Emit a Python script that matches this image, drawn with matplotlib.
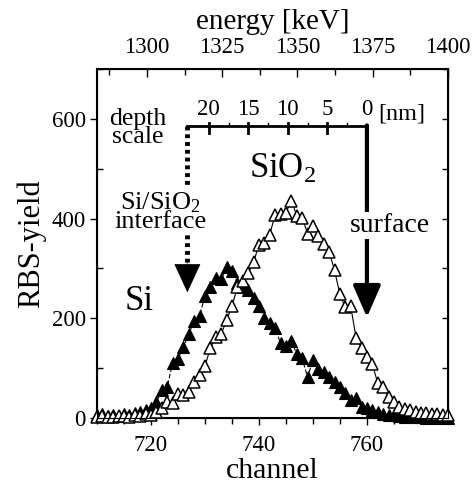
import numpy as np
import matplotlib
matplotlib.use('Agg')
import matplotlib.pyplot as plt
from matplotlib.ticker import MultipleLocator

# RBS spectra, one point per channel
channel = np.arange(710, 776)
si_yield = [5, 8, 3, 6, 4, 8, 5, 10, 12, 15,
            20, 32, 56, 62, 110, 118, 142, 168, 195, 205,
            245, 262, 280, 278, 302, 295, 270, 262, 256, 240,
            225, 200, 190, 180, 150, 145, 155, 128, 120, 82,
            116, 98, 92, 82, 72, 62, 50, 36, 40, 22,
            20, 16, 12, 8, 6, 5, 4, 2, 3, 1,
            2, 0, 1, 0, 1, 0]
sio2_yield = [2, 3, 1, 2, 4, 3, 2, 5, 4, 8,
              6, 12, 20, 32, 30, 48, 46, 52, 72, 86,
              104, 140, 162, 168, 196, 224, 262, 274, 290, 312,
              348, 352, 368, 408, 410, 412, 436, 406, 402, 370,
              386, 366, 350, 334, 296, 248, 222, 224, 160, 140,
              122, 108, 70, 62, 42, 32, 22, 18, 15, 12,
              10, 9, 8, 7, 6, 5]

# depth scale: 0 nm at the surface channel, 1.465 channels per nm
depth_ticks = [20, 15, 10, 5, 0]
depth_minor = [17.5, 12.5, 7.5, 2.5]
surface_ch = 760.0
ch_per_nm = 1.465
interface_nm = 22.7

# energy axis (keV) across the channel range
energy_lim = (1283.4, 1400)
energy_ticks = [1300, 1325, 1350, 1375, 1400]

plt.rcParams['font.family'] = ['Liberation Serif', 'DejaVu Serif']
plt.rcParams['font.size'] = 16.5
plt.rcParams['mathtext.fontset'] = 'custom'
plt.rcParams['mathtext.rm'] = 'Liberation Serif'
plt.rcParams['mathtext.it'] = 'Liberation Serif:italic'
plt.rcParams['mathtext.bf'] = 'Liberation Serif:bold'


def depth_to_ch(d):
    return surface_ch - ch_per_nm * np.asarray(d)


def main():
    fig = plt.figure(figsize=(4.73, 4.90), dpi=100)
    ax = fig.add_axes([0.205, 0.147, 0.742, 0.712])

    ax.plot(channel, si_yield, color='black', ls=(0, (4, 2)), lw=0.8,
            marker='^', ms=8.5, mfc='black', mec='black', mew=0.8,
            clip_on=False, zorder=3)
    ax.plot(channel, sio2_yield, color='black', ls='-', lw=0.8,
            marker='^', ms=8.5, mfc='white', mec='black', mew=1.1,
            clip_on=False, zorder=4)

    ax.set_xlim(710, 775)
    ax.set_ylim(0, 700)
    ax.xaxis.set_major_locator(MultipleLocator(20))
    ax.xaxis.set_minor_locator(MultipleLocator(5))
    ax.set_yticks([0, 200, 400, 600])
    ax.yaxis.set_minor_locator(MultipleLocator(100))
    ax.tick_params(axis='x', which='major', direction='out', length=5, width=1, pad=7)
    ax.tick_params(axis='x', which='minor', direction='out', length=4, width=1)
    ax.tick_params(axis='y', which='major', direction='out', length=5, width=1, pad=3)
    ax.tick_params(axis='y', which='minor', direction='in', length=4, width=1)
    for s in ax.spines.values():
        s.set_linewidth(1.5)

    ax.set_xlabel('channel', fontsize=21.5, labelpad=2)
    ax.set_ylabel('RBS-yield', fontsize=22, labelpad=4)

    # right-hand ticks pointing inward
    axr = ax.secondary_yaxis('right')
    axr.set_yticks([0, 200, 400, 600])
    axr.yaxis.set_minor_locator(MultipleLocator(100))
    axr.tick_params(which='both', direction='in', length=4, width=1, labelright=False)

    # energy scale on top
    axt = ax.twiny()
    axt.set_xlim(*energy_lim)
    axt.set_xticks(energy_ticks)
    axt.xaxis.set_minor_locator(MultipleLocator(12.5))
    axt.tick_params(which='major', direction='in', length=6, width=1, pad=8)
    axt.tick_params(which='minor', direction='in', length=4, width=1)
    axt.set_xlabel('energy [keV]', fontsize=21, labelpad=6)

    # depth scale bracket
    y_br = 586
    x_left = depth_to_ch(interface_nm)
    ax.plot([x_left, surface_ch], [y_br, y_br], color='black', lw=2, zorder=5)
    for xc in depth_to_ch(depth_ticks[:-1]):
        ax.plot([xc, xc], [y_br + 6, y_br - 14], color='black', lw=2, zorder=5)
    for xc in depth_to_ch(depth_minor):
        ax.plot([xc, xc], [y_br, y_br + 5], color='black', lw=1, zorder=5)
    for d, xc in zip(depth_ticks, depth_to_ch(depth_ticks)):
        ax.text(xc, y_br + 12, str(d), ha='center', va='bottom', fontsize=16.5)
    ax.text(766.5, 610, '[nm]', ha='center', va='center', fontsize=17.5)
    ax.text(717.6, 582, 'depth\nscale', ha='center', va='center',
            fontsize=18.5, linespacing=0.8)

    # surface arrow (solid)
    ax.annotate('', xy=(surface_ch, 202), xytext=(surface_ch, y_br + 1),
                arrowprops=dict(arrowstyle='-|>,head_length=1.95,head_width=0.85',
                                lw=3, color='black', shrinkA=0, shrinkB=0,
                                mutation_scale=10), zorder=5)
    ax.text(764.3, 386, 'surface', ha='center', va='center', fontsize=20,
            bbox=dict(facecolor='white', edgecolor='none', pad=1), zorder=6)

    # interface arrow (dotted shaft)
    ax.plot([x_left, x_left], [y_br, 300], color='black', lw=3.5,
            ls=(0, (0.8, 0.8)), zorder=5)
    ax.annotate('', xy=(x_left, 252), xytext=(x_left, 310),
                arrowprops=dict(arrowstyle='-|>,head_length=1.95,head_width=0.9',
                                lw=0.5, color='black', shrinkA=0, shrinkB=0,
                                mutation_scale=10), zorder=5)
    ax.text(721.8, 414, 'Si/SiO$_2$\ninterface', ha='center', va='center',
            fontsize=19, linespacing=0.8,
            bbox=dict(facecolor='white', edgecolor='none', pad=1), zorder=6)

    ax.text(738.2, 482, 'SiO$_2$', ha='left', va='baseline', fontsize=25)
    ax.text(717.8, 234, 'Si', ha='center', va='center', fontsize=25)

    plt.savefig('out.png', dpi=100)


if __name__ == "__main__":
    main()
